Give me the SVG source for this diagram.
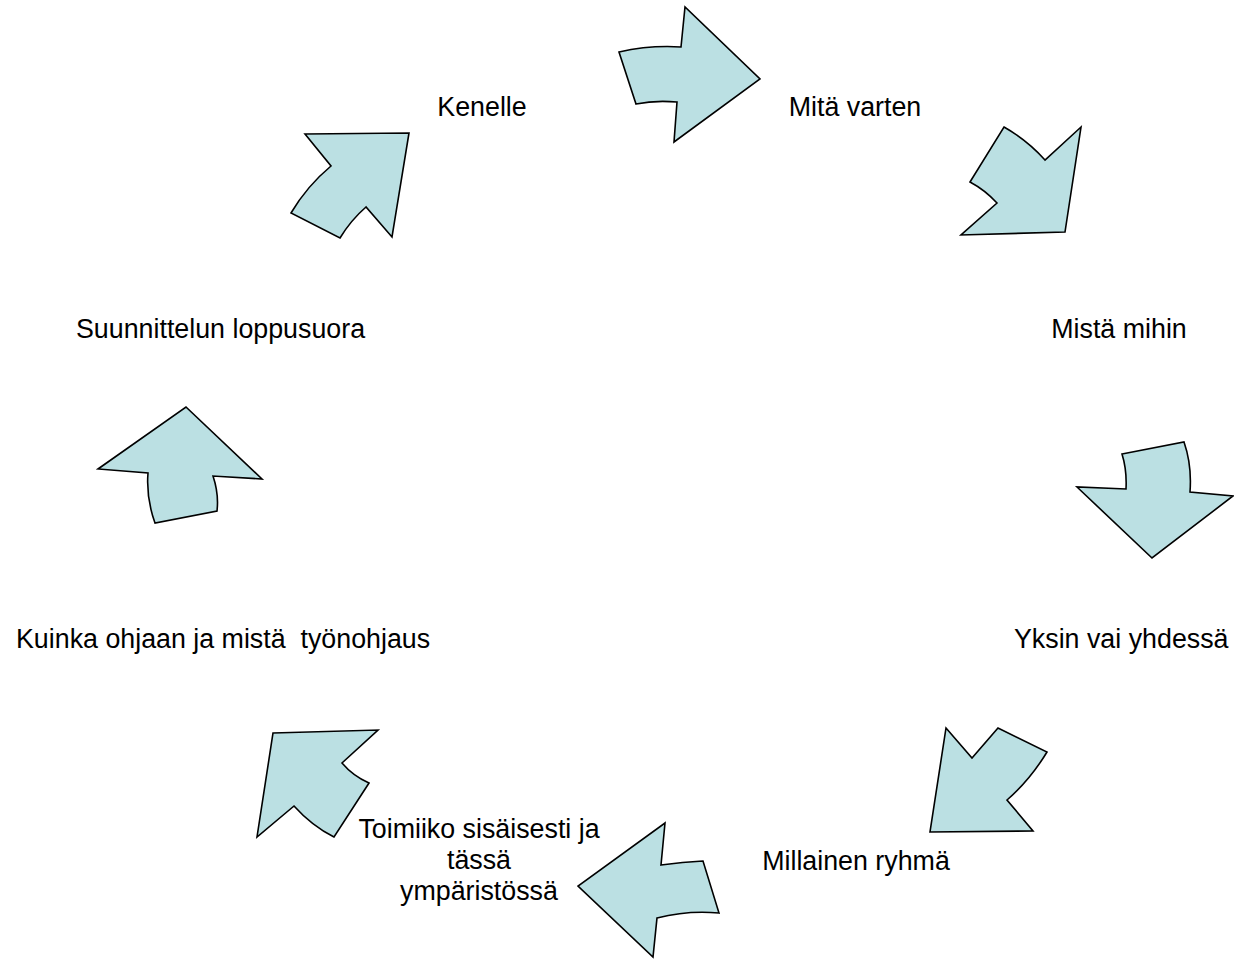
<svg xmlns="http://www.w3.org/2000/svg" width="1234" height="959" viewBox="0 0 1234 959">
<style>
.arr{fill:#bbe0e3;stroke:#000;stroke-width:1.6;stroke-linejoin:miter}
.t{font-family:"Liberation Sans",Arial,sans-serif;font-size:26.8px;fill:#000;white-space:pre}
.m{text-anchor:middle}
</style>
<rect width="1234" height="959" fill="#fff"/>
<g id="connectors">
<path id="arrow1" class="arr" d="M619,52 Q650,45 681,47 L685,7 L760,79 L674,142 L677,102 Q655,100 636,104 Z"/>
<path id="arrow2" class="arr" d="M1004,127 Q1027,140 1045,160 L1081,127 L1065,232 L961,235 L997,203 Q985,190 970,182 Z"/>
<path id="arrow3" class="arr" d="M1122,454 L1184,442 Q1192,465 1190,492 L1233,496 L1152,558 L1077,487 L1126,489 Q1127,470 1122,454 Z"/>
<path id="arrow4" class="arr" d="M946,728 L972,758 L998,728 L1047,752 Q1030,780 1007,800 L1033,831 L930,832 Z"/>
<path id="arrow5" class="arr" d="M665,823 L661,865 Q683,862 703,861 L719,913 Q688,910 657,918 L653,957 L578,886 Z"/>
<path id="arrow6" class="arr" d="M273,733 L378,730 L342,763 Q353,776 369,783 L334,837 Q312,826 294,806 L257,837 Z"/>
<path id="arrow7" class="arr" d="M186,407 L262,479 L213,476 Q219,494 217,511 L155,523 Q146,498 148,473 L98,469 Z"/>
<path id="arrow8" class="arr" d="M305,134 L409,133 L392,237 L366,207 Q351,220 340,238 L291,213 Q307,186 331,166 Z"/>
</g>
<g id="node-kenelle"><text class="t m" x="482" y="116">Kenelle</text></g>
<g id="node-mita-varten"><text class="t m" x="855" y="116">Mitä varten</text></g>
<g id="node-mista-mihin"><text class="t m" x="1119" y="338">Mistä mihin</text></g>
<g id="node-yksin"><text class="t" x="1014" y="648">Yksin vai yhdessä</text></g>
<g id="node-millainen"><text class="t m" x="856" y="870">Millainen ryhmä</text></g>
<g id="node-toimiiko"><text class="t m" x="479" y="838">Toimiiko sisäisesti ja</text><text class="t m" x="479" y="869">tässä</text><text class="t m" x="479" y="900">ympäristössä</text></g>
<g id="node-kuinka"><text class="t" x="16" y="648">Kuinka ohjaan ja mistä  työnohjaus</text></g>
<g id="node-suunnittelun"><text class="t" x="76" y="338">Suunnittelun loppusuora</text></g>
</svg>
